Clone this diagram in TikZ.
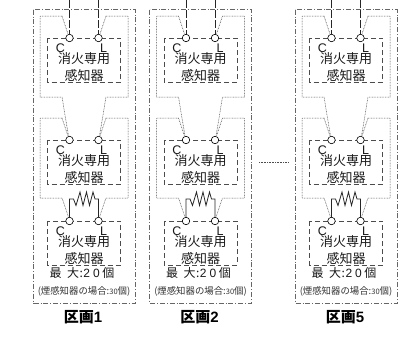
\documentclass[tikz,border=0pt]{standalone}
\usepackage{fontspec}
\setmainfont{Noto Sans CJK JP}[BoldFont={Noto Sans CJK JP Black}]
\newfontfamily\lat{Liberation Sans}
\usetikzlibrary{calc}
\tikzset{
 x=1pt,y=-1pt,
 outerbox/.style={draw=black!60,line width=.7pt,dash pattern=on 5pt off 2pt on .8pt off 2pt},
 detbox/.style={draw=black!70,line width=.6pt,dash pattern=on 5pt off 3pt},
 loopline/.style={draw=black!70,line width=.5pt,dash pattern=on .8pt off .8pt},
 wire/.style={draw=black!85,line width=.8pt},
 term/.style={circle,draw=black,fill=white,line width=.6pt,minimum size=7.5pt,inner sep=0pt},
 lbl/.style={font=\fontsize{13}{14}\selectfont,text=black!90,inner sep=0pt,text height=10.5pt,text depth=1.5pt},
 letter/.style={font=\lat\fontsize{12.5}{13}\selectfont,text=black!90,inner sep=0pt,text height=9pt,text depth=0pt},
 maxlbl/.style={font=\fontsize{12}{13}\selectfont,text=black!90,inner sep=0pt,text height=10pt,text depth=1pt},
 note/.style={font=\fontsize{9.4}{10}\selectfont,text=black!80,inner sep=0pt},
 title/.style={font=\bfseries\fontsize{15}{16}\selectfont,text=black,inner sep=0pt},
}
\begin{document}
\begin{tikzpicture}
\useasboundingbox (0,0) rectangle (398,338);
\foreach \dx/\zone in {0/1,116.5/2,262/5}{
 \begin{scope}[shift={(\dx,0)}]
  \draw[outerbox] (33,9.5) -- (33,303) -- (135,303) -- (135,9.5) -- cycle;
  \coordinate (top1) at (69.5,0);
  \coordinate (top2) at (98.5,0);
  \foreach \row/\y in {a/38,b/140,c/221}{
   \draw[detbox] (47.5,\y) rectangle (120.5,\y+44);
   \node[lbl] at (84,\y+21) {消火専用};
   \node[lbl] at (84,\y+37.5) {感知器};
   \node[letter] at (60.5,\y+9.5) {C};
   \node[letter] at (103.5,\y+9.5) {L};
  }
  \draw[loopline] (62,16) -- (40,16) -- (40,97) -- (62,97) -- (68.5,136);
  \draw[loopline] (106,16) -- (128,16) -- (128,97) -- (106,97) -- (99.5,136);
  \draw[loopline] (62,16) -- (68,34);
  \draw[loopline] (106,16) -- (100,34);
  \draw[loopline] (62,118) -- (40,118) -- (40,198) -- (62,198) -- (68.5,217);
  \draw[loopline] (62,118) -- (68,136);
  \draw[loopline] (106,118) -- (128,118) -- (128,198) -- (106,198) -- (99.5,217);
  \draw[loopline] (106,118) -- (100,136);
  \foreach \row/\y in {a/38,b/140,c/221}{
   \node[term] (cc\row) at (69.5,\y) {};
   \node[term] (ll\row) at (98.5,\y) {};
  }
  \draw[wire,line width=.6pt,dash pattern=on 8pt off 2pt] (top1) -- (cca);
  \draw[wire,line width=.6pt,dash pattern=on 8pt off 2pt] (top2) -- (lla);
  \draw[wire] (ccc) -- (69.5,199) -- (73.5,199) -- (76,205.5) -- (80,192) -- (83,205.5) -- (86.5,192) -- (89.5,205.5) -- (93,192) -- (95,199) -- (98.5,199) -- (llc);
  \node[maxlbl] at (82,273) {最\hspace{5.5pt}大\hspace{.5pt}:\hspace{.5pt}{\lat 2}\hspace{3pt}{\lat 0}\hspace{2.5pt}個};
  \node[note] at (84,291) {(煙感知器の場合:{\fontsize{7.5}{9}\selectfont 30}個)};
  \node[title] at (83,317) {区画{\lat\bfseries\zone}};
 \end{scope}
}
\coordinate (gapl) at (259,162);
\coordinate (gapr) at (289,162);
\draw[loopline] (gapl) -- (gapr);
\end{tikzpicture}
\end{document}
